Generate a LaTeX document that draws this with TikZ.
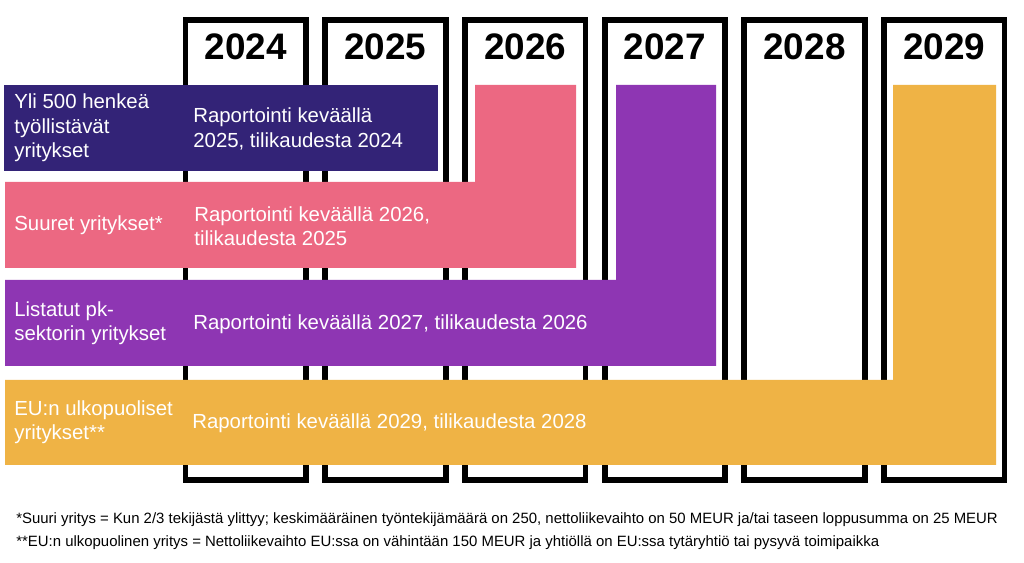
\documentclass[tikz,border=0pt]{standalone}
\usepackage{fontspec}
\setmainfont{Liberation Sans}
\usetikzlibrary{positioning}
\definecolor{navyband}{RGB}{51,35,119}
\definecolor{pinkband}{RGB}{236,104,130}
\definecolor{purpleband}{RGB}{142,54,179}
\definecolor{yellowband}{RGB}{239,179,69}
\begin{document}
\begin{tikzpicture}[x=0.02cm,y=-0.02cm,
  yearcol/.style={draw=black,fill=white,line width=3.3pt},
  yearlab/.style={font=\fontsize{21}{24}\selectfont\bfseries},
  lab/.style={anchor=west,align=left,text=white,inner sep=0pt,
    font=\fontsize{11.6}{13.9}\selectfont},
  note/.style={anchor=base west,inner sep=0pt,font=\fontsize{8.5}{10}\selectfont}]
\useasboundingbox (0,0) rectangle (1024,563);
% year columns
\foreach \yr [count=\i from 0] in {2024,2025,2026,2027,2028,2029}{
  \draw[yearcol] ({185.5+139.7*\i},20) rectangle ({306+139.7*\i},480);
  \node[yearlab] (y\yr) at ({245.7+139.7*\i},47) {\yr};
}
% bands
\fill[navyband] (4,85) rectangle (438,171);
\fill[pinkband] (5,182) -- (475,182) -- (475,85) -- (576,85) -- (576,268) -- (5,268) -- cycle;
\fill[purpleband] (5,280) -- (616,280) -- (616,85) -- (716,85) -- (716,366) -- (5,366) -- cycle;
\fill[yellowband] (5,380) -- (893,380) -- (893,85) -- (996,85) -- (996,465) -- (5,465) -- cycle;
% labels
\node[lab] (big500) at (14,128) {Yli 500 henkeä\\työllistävät\\yritykset};
\node[lab] (rep2025) at (193,129) {Raportointi keväällä\\2025, tilikaudesta 2024};
\node[lab] (large) at (14,225) {Suuret yritykset*};
\node[lab] (rep2026) at (194,226) {Raportointi keväällä 2026,\\tilikaudesta 2025};
\node[lab] (listed) at (14,323) {Listatut pk-\\sektorin yritykset};
\node[lab] (rep2027) at (193,324) {Raportointi keväällä 2027, tilikaudesta 2026};
\node[lab] (noneu) at (14,422) {EU:n ulkopuoliset\\yritykset**};
\node[lab] (rep2029) at (192,423) {Raportointi keväällä 2029, tilikaudesta 2028};
% footnotes
\node[note] (fn1) at (16,523) {*Suuri yritys = Kun 2/3 tekijästä ylittyy; keskimääräinen työntekijämäärä on 250, nettoliikevaihto on 50 MEUR ja/tai taseen loppusumma on 25 MEUR};
\node[note] (fn2) at (16,546) {**EU:n ulkopuolinen yritys = Nettoliikevaihto EU:ssa on vähintään 150 MEUR ja yhtiöllä on EU:ssa tytäryhtiö tai pysyvä toimipaikka};
\end{tikzpicture}
\end{document}
